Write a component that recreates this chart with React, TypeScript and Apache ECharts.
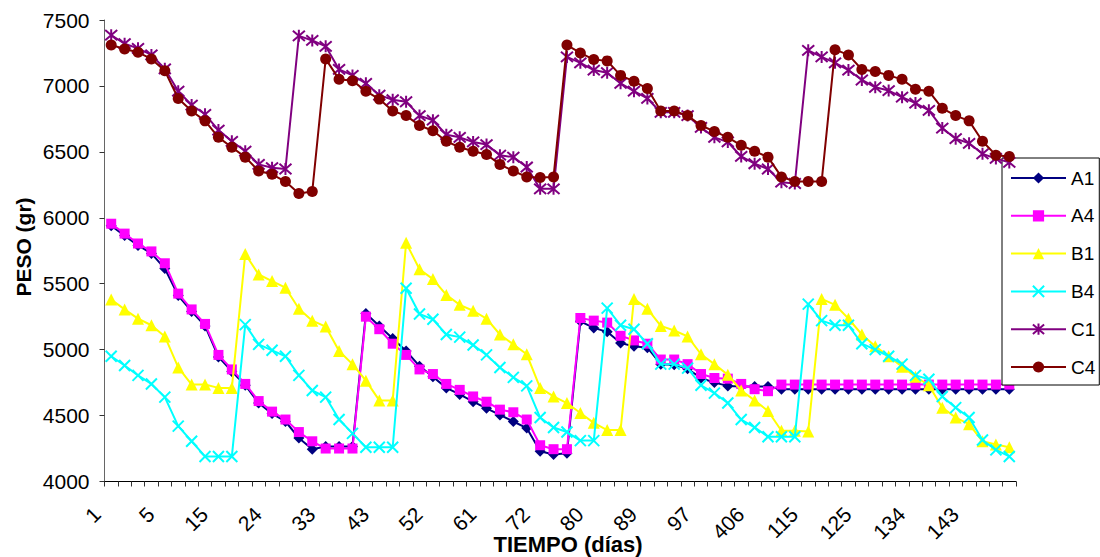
import React, { useEffect, useRef } from "react";
import * as echarts from "echarts";

// Days (x categories); labels shown every 4th category
const days = [
  "1", "2", "3", "4", "5", "8", "10", "12", "15", "17",
  "19", "22", "24", "26", "29", "31", "33", "36", "38", "40",
  "43", "45", "47", "50", "52", "54", "57", "59", "61", "64",
  "66", "69", "72", "74", "76", "78", "80", "82", "85", "87",
  "89", "91", "93", "95", "97", "99", "101", "104", "406", "108",
  "110", "113", "115", "118", "120", "122", "125", "127", "129", "132",
  "134", "136", "138", "141", "143", "145", "148", "150",
];

const A1 = [
  5940, 5865, 5790, 5730, 5615, 5410, 5290, 5180, 4945, 4835,
  4730, 4595, 4515, 4455, 4330, 4245, 4265, 4265, 4265, 5275,
  5180, 5085, 4990, 4875, 4795, 4710, 4660, 4605, 4555, 4505,
  4455, 4405, 4230, 4205, 4215, 5215, 5165, 5135, 5050, 5025,
  5015, 4890, 4885, 4855, 4785, 4750, 4725, 4720, 4720, 4720,
  4700, 4700, 4700, 4700, 4700, 4700, 4700, 4700, 4700, 4700,
  4700, 4700, 4700, 4700, 4700, 4700, 4700, 4700,
];

const A4 = [
  5955, 5880, 5805, 5745, 5655, 5425, 5305, 5195, 4960, 4850,
  4740, 4610, 4530, 4470, 4375, 4305, 4250, 4250, 4250, 5250,
  5155, 5045, 4960, 4850, 4815, 4740, 4695, 4645, 4605, 4545,
  4525, 4470, 4275, 4245, 4245, 5240, 5220, 5205, 5105, 5070,
  5045, 4925, 4925, 4890, 4815, 4785, 4780, 4740, 4700, 4685,
  4735, 4735, 4735, 4735, 4735, 4735, 4735, 4735, 4735, 4735,
  4735, 4735, 4735, 4735, 4735, 4735, 4735, 4735,
];

const B1 = [
  5380, 5305, 5235, 5185, 5100, 4865, 4735, 4735, 4710, 4710,
  5725, 5570, 5520, 5470, 5310, 5220, 5175, 4990, 4890, 4765,
  4615, 4615, 5810, 5610, 5535, 5415, 5340, 5295, 5235, 5115,
  5040, 4965, 4710, 4645, 4595, 4520, 4445, 4390, 4390, 5385,
  5310, 5180, 5145, 5100, 4965, 4890, 4810, 4690, 4615, 4535,
  4385, 4385, 4380, 5385, 5340, 5235, 5115, 5025, 4950, 4870,
  4795, 4730, 4560, 4485, 4435, 4305, 4280, 4260,
];

const B4 = [
  4950, 4880, 4805, 4740, 4640, 4420, 4305, 4190, 4190, 4190,
  5190, 5040, 4995, 4950, 4805, 4690, 4640, 4470, 4365, 4260,
  4260, 4260, 5465, 5270, 5230, 5115, 5095, 5035, 4960, 4865,
  4790, 4725, 4485, 4410, 4375, 4310, 4310, 5315, 5185, 5155,
  5045, 4890, 4890, 4860, 4730, 4670, 4595, 4470, 4410, 4340,
  4340, 4340, 5345, 5220, 5185, 5185, 5045, 5000, 4950, 4890,
  4805, 4775, 4645, 4560, 4485, 4315, 4240, 4190,
];

const C1 = [
  7385, 7320, 7285, 7235, 7130, 6960, 6855, 6785, 6665, 6580,
  6505, 6405, 6380, 6370, 7380, 7345, 7300, 7125, 7080, 7020,
  6930, 6895, 6880, 6775, 6740, 6630, 6610, 6575, 6555, 6475,
  6460, 6385, 6220, 6220, 7220, 7175, 7120, 7100, 7020, 6960,
  6905, 6800, 6800, 6775, 6685, 6610, 6575, 6465, 6410, 6370,
  6270, 6260, 7270, 7220, 7175, 7120, 7045, 6990, 6965, 6915,
  6870, 6815, 6680, 6600, 6565, 6485, 6450, 6420,
];

const C4 = [
  7310, 7280, 7255, 7205, 7115, 6905, 6810, 6735, 6610, 6535,
  6460, 6355, 6330, 6275, 6185, 6200, 7205, 7050, 7040, 6960,
  6900, 6810, 6775, 6700, 6660, 6580, 6535, 6505, 6480, 6405,
  6355, 6310, 6305, 6310, 7310, 7250, 7200, 7190, 7080, 7035,
  6980, 6810, 6810, 6775, 6700, 6655, 6610, 6550, 6505, 6460,
  6310, 6275, 6275, 6275, 7275, 7235, 7125, 7110, 7080, 7050,
  6975, 6960, 6830, 6775, 6735, 6580, 6475, 6465,
];

const seriesNames = ["A1", "A4", "B1", "B4", "C1", "C4"];
const seriesData = [A1, A4, B1, B4, C1, C4];
const seriesColors = ["#000080", "#FF00FF", "#FFFF00", "#00FFFF", "#800080", "#800000"];

const X_SYMBOL = "path://M0,0L11,11M11,0L0,11";
const STAR_SYMBOL = "path://M0,0L12,12M12,0L0,12M6,-1L6,13";

const symbols = ["diamond", "rect", "triangle", X_SYMBOL, STAR_SYMBOL, "circle"];
const symbolSizes = [11, 10, 12, 11, 12, 11];

const FONT = "'Liberation Sans', Arial, sans-serif";

export default function App() {
  const ref = useRef<HTMLDivElement>(null);

  useEffect(() => {
    if (!ref.current) return;
    const chart = echarts.init(ref.current, undefined, { renderer: "svg" });

    const series = seriesNames.map((name, k) => {
      const isStroke = k === 3 || k === 4;
      return {
        name,
        type: "line",
        data: seriesData[k],
        symbol: symbols[k],
        symbolSize: symbolSizes[k],
        showSymbol: true,
        showAllSymbol: true,
        lineStyle: { color: seriesColors[k], width: 2 },
        itemStyle: isStroke
          ? { color: seriesColors[k], borderColor: seriesColors[k], borderWidth: 2 }
          : { color: seriesColors[k], borderWidth: 0 },
        emphasis: { disabled: true },
        z: 2 + k,
      };
    });

    chart.setOption({
      animation: false,
      backgroundColor: "#ffffff",
      textStyle: { fontFamily: FONT },
      grid: { left: 104.5, top: 20, width: 911.5, height: 461.5, containLabel: false },
      xAxis: {
        type: "category",
        data: days,
        boundaryGap: true,
        axisLine: { show: true, lineStyle: { color: "#000", width: 1 } },
        axisTick: { show: true, interval: 0, length: 5, lineStyle: { color: "#333" } },
        axisLabel: {
          interval: 3,
          rotate: 45,
          margin: 15,
          padding: [0, 20, 0, 0],
          fontSize: 21,
          color: "#000",
          fontFamily: FONT,
        },
        splitLine: { show: false },
      },
      yAxis: {
        type: "value",
        min: 4000,
        max: 7500,
        interval: 500,
        axisLine: { show: true, lineStyle: { color: "#666", width: 1 } },
        axisTick: { show: true, length: 5, lineStyle: { color: "#333" } },
        axisLabel: {
          fontSize: 21,
          color: "#000",
          margin: 15,
          fontFamily: FONT,
          formatter: (v: number) => String(v),
        },
        splitLine: { show: false },
      },
      legend: {
        orient: "vertical",
        left: 1002,
        top: 158,
        padding: [10, 4, 8, 8],
        itemWidth: 55,
        itemHeight: 14,
        itemGap: 17.8,
        backgroundColor: "#ffffff",
        borderColor: "#000",
        borderWidth: 1,
        borderRadius: 0,
        textStyle: { fontSize: 19, color: "#000", lineHeight: 20, fontFamily: FONT },
        data: seriesNames,
      },
      graphic: [
        {
          type: "text",
          x: 23,
          y: 247,
          rotation: Math.PI / 2,
          style: {
            text: "PESO (gr)",
            font: `bold 21px ${FONT}`,
            fill: "#000",
            textAlign: "center",
            textVerticalAlign: "middle",
          },
        },
        {
          type: "text",
          x: 568,
          y: 544,
          style: {
            text: "TIEMPO (días)",
            font: `bold 22px ${FONT}`,
            fill: "#000",
            textAlign: "center",
            textVerticalAlign: "middle",
          },
        },
      ],
      series,
    });

    return () => chart.dispose();
  }, []);

  return (
    <div
      ref={ref}
      style={{ position: "absolute", left: 0, top: 0, width: 1100, height: 557 }}
    />
  );
}
